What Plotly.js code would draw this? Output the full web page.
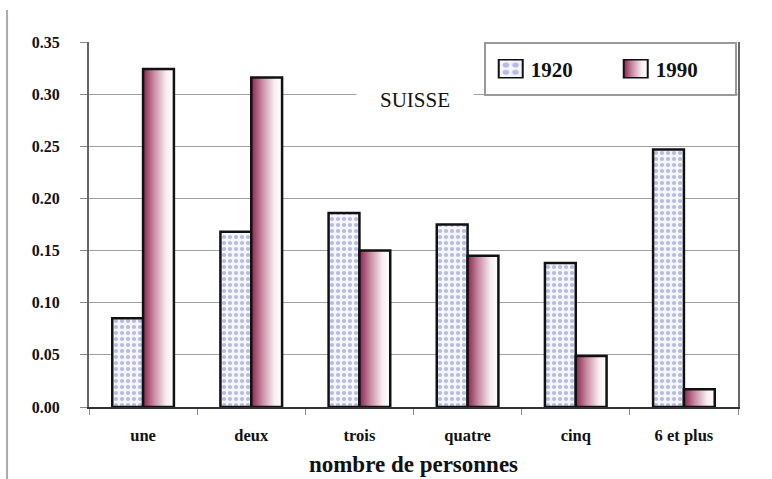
<!DOCTYPE html>
<html><head><meta charset="utf-8">
<script src="https://cdn.plot.ly/plotly-3.0.1.min.js"></script>
<style>html,body{margin:0;padding:0;background:#fff}#chart{width:772px;height:479px}</style>
</head><body><div id="chart"></div>
<script>
const categories = ['une', 'deux', 'trois', 'quatre', 'cinq', '6 et plus'];
const values1920 = [0.085, 0.168, 0.186, 0.175, 0.138, 0.247];
const values1990 = [0.324, 0.316, 0.150, 0.145, 0.049, 0.017];
const yTicks = [0, 0.05, 0.10, 0.15, 0.20, 0.25, 0.30, 0.35];
const seriesNames = ['1920', '1990'];

const serif = 'Liberation Serif, Times New Roman, serif';

const data = [
  {
    type: 'bar', name: seriesNames[0], x: categories, y: values1920,
    marker: {
      color: '#f5f6fc',
      line: {color: '#111', width: 2.5},
      pattern: {shape: '.', fgcolor: '#7880c2', bgcolor: '#f5f6fc', size: 6, solidity: 0.38, fillmode: 'overlay'}
    }
  },
  {
    type: 'bar', name: seriesNames[1], x: categories, y: values1990,
    marker: {color: '#c98aa2', line: {color: '#111', width: 2.5}}
  }
];

const layout = {
  width: 772, height: 479,
  margin: {l: 89, r: 34, t: 42, b: 72},
  paper_bgcolor: '#fff', plot_bgcolor: '#fff',
  barmode: 'group', bargap: 0.43, bargroupgap: 0,
  font: {family: serif, color: '#111'},
  showlegend: true,
  legend: {
    orientation: 'h', x: 0.619, xanchor: 'left', y: 0.926, yanchor: 'middle',
    font: {family: serif, size: 21, weight: 'bold', color: '#111'},
    bgcolor: 'rgba(0,0,0,0)', borderwidth: 0,
    entrywidth: 80, entrywidthmode: 'pixels'
  },
  xaxis: {
    type: 'category', tickson: 'boundaries', ticks: 'outside', ticklen: 6, tickcolor: '#888', tickwidth: 1,
    showline: true, linecolor: '#333', linewidth: 2, showgrid: false,
    tickfont: {family: serif, size: 16.5, weight: 'bold', color: '#111'},
    ticklabelstandoff: 12,
    title: {text: 'nombre de personnes', font: {family: serif, size: 23, weight: 'bold', color: '#111'}, standoff: 12}
  },
  yaxis: {
    range: [0, 0.35], tickvals: yTicks, tickformat: '.2f',
    ticks: 'outside', ticklen: 7, tickcolor: '#888', tickwidth: 1,
    showline: true, linecolor: '#666', linewidth: 2, mirror: true,
    showgrid: true, gridcolor: '#a0a0a0', gridwidth: 1, zeroline: false,
    tickfont: {family: serif, size: 16, weight: 'bold', color: '#111'},
    ticklabelstandoff: 17
  },
  shapes: [
    {type: 'line', xref: 'paper', yref: 'paper', x0: -0.1263, x1: -0.1263, y0: 1.0877, y1: -0.2,
     line: {color: '#aaa', width: 2}},
    {type: 'rect', xref: 'paper', yref: 'paper', layer: 'above',
     x0: (485 - 89) / 649, x1: (736 - 89) / 649, y0: (407 - 95) / 365, y1: (407 - 43) / 365,
     line: {color: '#999', width: 2}, fillcolor: '#fff'}
  ],
  annotations: [
    {text: 'SUISSE', xref: 'paper', yref: 'paper', x: 0.503, y: 0.901, showarrow: false,
     font: {family: serif, size: 21, color: '#111'}, bgcolor: '#fff', width: 116, height: 42, borderpad: 0}
  ]
};

Plotly.newPlot('chart', data, layout, {staticPlot: true}).then(function (gd) {
  const ns = 'http://www.w3.org/2000/svg';
  const svg = gd.querySelector('svg.main-svg');
  let defs = svg.querySelector('defs');
  if (!defs) { defs = document.createElementNS(ns, 'defs'); svg.insertBefore(defs, svg.firstChild); }
  const lg = document.createElementNS(ns, 'linearGradient');
  lg.setAttribute('id', 'g1990');
  lg.setAttribute('x1', '0'); lg.setAttribute('x2', '1'); lg.setAttribute('y1', '0'); lg.setAttribute('y2', '0');
  [['0', '#86264f'], ['0.35', '#c98aa2'], ['0.75', '#f8eef2'], ['1', '#ffffff']].forEach(function (s) {
    const st = document.createElementNS(ns, 'stop');
    st.setAttribute('offset', s[0]); st.setAttribute('stop-color', s[1]);
    lg.appendChild(st);
  });
  defs.appendChild(lg);
  const traces = gd.querySelectorAll('.barlayer .trace');
  if (traces[1]) traces[1].querySelectorAll('path').forEach(function (p) { p.style.fill = 'url(#g1990)'; });
  const legTraces = gd.querySelectorAll('.legend .traces');
  legTraces.forEach(function (t, i) {
    t.querySelectorAll('.legendpoints path').forEach(function (p) {
      const tr = p.getAttribute('transform') || '';
      p.setAttribute('transform', tr + ' scale(2,1.5)');
      p.style.strokeWidth = '1px';
      if (i === 1) p.style.fill = 'url(#g1990)';
    });
  });
});
</script>
</body></html>
